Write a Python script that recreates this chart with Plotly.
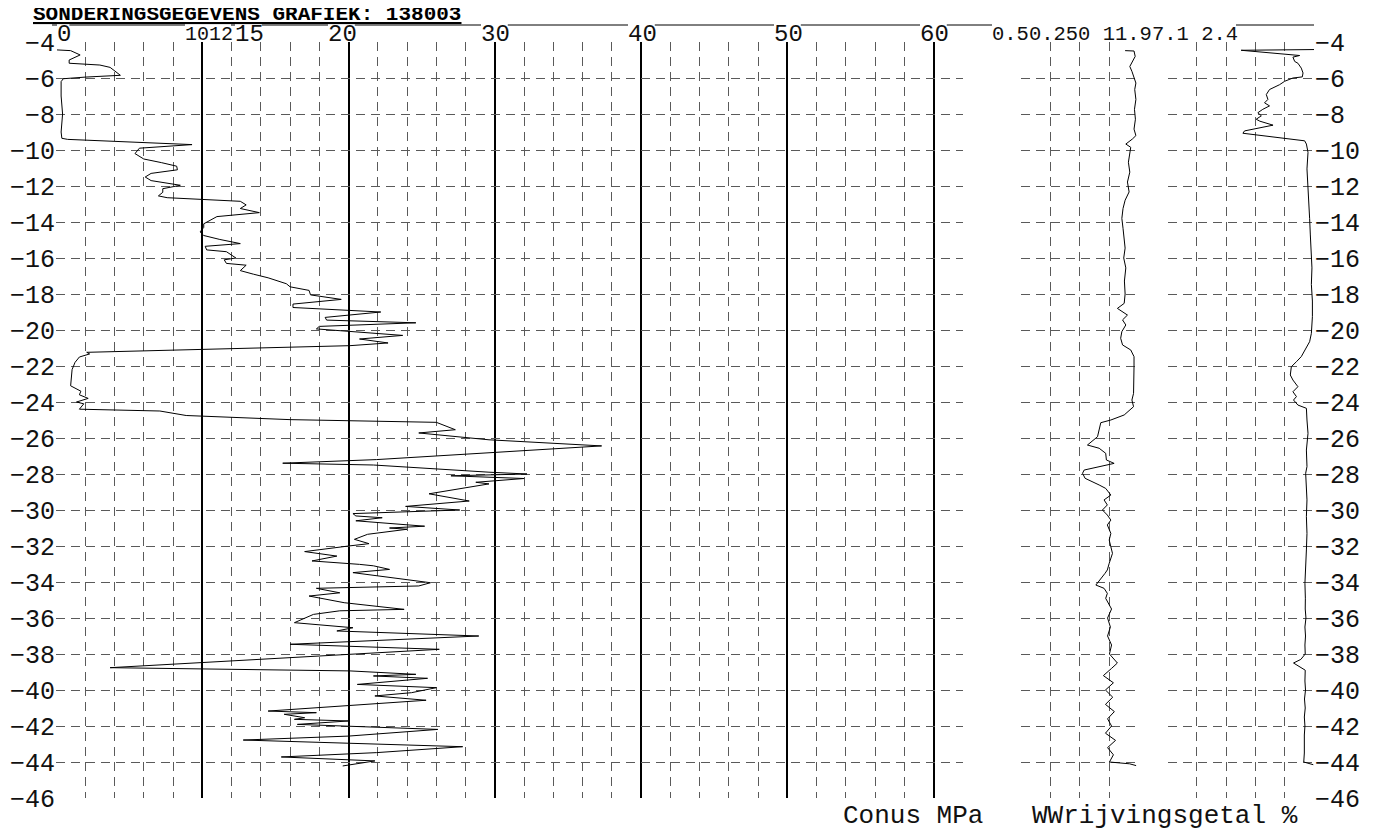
import plotly.graph_objects as go

# --- data ------------------------------------------------------------------
# cone resistance (MPa) against depth (m)
conus_depth = [-4.44, -4.48, -4.72, -5.0, -5.18, -5.28, -5.41, -5.6, -5.85, -5.95,
               -6.04, -6.2, -7.0, -8.0, -9.0, -9.35, -9.41, -9.7, -9.9, -10.2,
               -10.5, -10.7, -10.9, -11.1, -11.3, -11.5, -11.7, -11.96, -12.15, -12.35,
               -12.55, -12.65, -12.85, -13.05, -13.25, -13.48, -13.7, -14.1, -14.3, -14.55,
               -14.75, -14.97, -15.2, -15.35, -15.55, -15.65, -16.0, -16.1, -16.3, -16.4,
               -16.7, -16.9, -17.1, -17.43, -17.6, -17.8, -18.05, -18.3, -18.56, -18.75,
               -19.0, -19.3, -19.45, -19.6, -19.8, -19.94, -20.3, -20.5, -20.72, -20.87,
               -21.24, -21.33, -21.5, -21.8, -22.2, -23.1, -23.4, -23.6, -23.8, -24.0,
               -24.1, -24.4, -24.5, -24.75, -24.98, -25.13, -25.3, -25.54, -25.72, -26.0,
               -26.1, -26.44, -26.8, -27.2, -27.4, -27.5, -27.9, -28.0, -28.1, -28.25,
               -28.46, -28.55, -29.1, -29.5, -29.8, -30.0, -30.2, -30.33, -30.43, -30.6,
               -30.9, -31.0, -31.07, -31.35, -31.63, -31.87, -32.0, -32.31, -32.56, -32.83,
               -33.02, -33.1, -33.3, -33.48, -34.04, -34.22, -34.35, -34.6, -34.78, -35.15,
               -35.52, -35.6, -35.8, -36.26, -36.54, -36.72, -37.0, -37.46, -37.74, -38.02,
               -38.2, -38.76, -38.94, -39.13, -39.22, -39.35, -39.69, -39.87, -40.15, -40.33,
               -40.57, -41.17, -41.26, -41.35, -41.54, -41.63, -41.72, -41.91, -42.19, -42.56,
               -42.78, -43.15, -43.48, -43.72, -43.94, -44.22]
conus_mpa = [0.07, 1.0, 1.65, 0.9, 0.9, 3.0, 3.7, 4.0, 4.4, 2.0,
             0.5, 0.35, 0.35, 0.45, 0.35, 0.4, 0.8, 9.3, 5.7, 5.4,
             6.0, 7.2, 8.25, 8.3, 6.5, 6.1, 6.5, 8.5, 7.3, 7.3,
             7.0, 7.6, 12.6, 13.0, 12.6, 13.9, 11.0, 10.1, 10.1, 9.85,
             10.1, 11.2, 12.6, 10.2, 10.3, 11.65, 12.3, 11.5, 11.65, 13.0,
             12.6, 13.5, 14.5, 15.75, 16.0, 17.3, 17.4, 19.5, 16.2, 16.2,
             22.2, 18.4, 18.5, 24.6, 18.0, 17.8, 23.7, 20.75, 22.7, 20.1,
             2.1, 2.3, 1.6, 1.3, 1.1, 1.0, 1.7, 1.6, 2.2, 1.4,
             1.9, 1.6, 7.1, 8.9, 16.0, 26.0, 26.5, 27.3, 24.8, 28.5,
             29.6, 37.3, 29.6, 21.9, 15.5, 21.7, 29.6, 32.2, 27.0, 32.0,
             28.7, 29.6, 25.5, 28.25, 23.9, 27.6, 20.3, 20.5, 22.3, 20.5,
             25.2, 22.8, 24.0, 21.3, 20.4, 21.4, 20.0, 17.0, 19.2, 17.5,
             20.75, 21.7, 22.8, 20.3, 25.6, 24.8, 17.8, 19.4, 17.3, 19.7,
             23.8, 19.4, 17.6, 16.3, 20.3, 19.2, 28.9, 16.0, 26.2, 20.1,
             16.2, 3.7, 20.1, 24.6, 21.7, 25.4, 20.6, 26.0, 24.3, 21.8,
             25.3, 14.5, 17.8, 15.6, 17.0, 16.3, 20.0, 16.5, 26.1, 20.0,
             12.8, 27.8, 21.9, 15.4, 21.8, 19.6]

# sleeve friction (MPa) against depth (m)
fric_depth = [-4.48, -4.5, -4.8, -5.08, -5.36, -5.63, -6.0, -6.28, -6.64, -7.19,
              -7.74, -8.29, -8.84, -9.2, -9.39, -9.67, -9.85, -10.13, -10.68, -11.23,
              -11.78, -12.33, -12.79, -13.25, -13.8, -14.35, -14.9, -15.45, -16.0, -16.55,
              -17.28, -18.0, -18.52, -18.8, -19.17, -19.44, -19.72, -20.09, -20.46, -20.83,
              -21.11, -21.48, -22.04, -22.78, -23.52, -23.89, -24.26, -24.72, -25.0, -25.15,
              -25.56, -25.93, -26.39, -26.57, -26.85, -27.22, -27.41, -27.78, -27.96, -28.24,
              -28.61, -28.8, -29.17, -29.44, -29.72, -30.0, -30.28, -30.56, -30.83, -31.3,
              -31.67, -32.41, -32.96, -33.33, -33.52, -34.17, -34.35, -34.63, -34.91, -35.5,
              -36.0, -36.5, -37.0, -37.5, -38.0, -38.5, -38.8, -39.2, -39.6, -40.0,
              -40.4, -40.8, -41.2, -41.6, -42.0, -42.4, -42.8, -43.2, -43.6, -44.0,
              -44.1, -44.2]
fric_mpa = [0.057, 0.019, 0.014, 0.026, 0.037, 0.028, 0.019, 0.011, 0.016, 0.011,
            0.017, 0.013, 0.019, 0.011, 0.026, 0.054, 0.033, 0.036, 0.043, 0.037,
            0.047, 0.040, 0.057, 0.066, 0.071, 0.066, 0.061, 0.057, 0.063, 0.054,
            0.060, 0.057, 0.061, 0.090, 0.047, 0.068, 0.054, 0.071, 0.076, 0.068,
            0.033, 0.019, 0.019, 0.019, 0.021, 0.028, 0.021, 0.061, 0.118, 0.161,
            0.168, 0.175, 0.218, 0.168, 0.140, 0.137, 0.104, 0.232, 0.239, 0.228,
            0.168, 0.140, 0.118, 0.147, 0.133, 0.154, 0.133, 0.118, 0.133, 0.118,
            0.125, 0.111, 0.125, 0.133, 0.143, 0.182, 0.147, 0.133, 0.140, 0.115,
            0.132, 0.120, 0.132, 0.115, 0.124, 0.090, 0.115, 0.150, 0.107, 0.141,
            0.110, 0.141, 0.103, 0.132, 0.115, 0.141, 0.098, 0.132, 0.107, 0.124,
            0.038, 0.010]

# friction ratio (%) against depth (m)
ratio_depth = [-4.42, -4.46, -4.75, -4.84, -5.08, -5.18, -5.45, -5.72, -5.94, -6.0,
               -6.18, -6.37, -6.64, -6.92, -7.19, -7.38, -7.55, -7.74, -7.93, -8.1,
               -8.29, -8.4, -8.62, -8.75, -8.94, -9.07, -9.49, -9.67, -10.13, -11.05,
               -11.96, -12.88, -13.8, -14.72, -15.63, -16.55, -17.47, -18.39, -19.26, -20.19,
               -20.65, -21.11, -21.48, -21.76, -22.04, -22.5, -22.78, -23.15, -23.43, -23.7,
               -23.89, -24.17, -24.35, -25.0, -25.74, -26.67, -27.59, -27.96, -28.52, -29.44,
               -30.37, -31.3, -32.22, -33.15, -34.07, -34.9, -35.5, -36.0, -36.5, -37.0,
               -37.5, -38.0, -38.3, -38.5, -38.7, -38.9, -39.5, -40.0, -40.5, -41.0,
               -41.5, -42.0, -42.5, -43.0, -43.5, -44.0, -44.1, -44.15]
ratio_pct = [0.0, 4.98, 0.98, 1.44, 1.32, 1.1, 0.87, 0.75, 0.8, 1.44,
             2.0, 2.35, 3.04, 3.26, 3.15, 3.38, 3.04, 3.5, 3.84, 3.6,
             3.95, 3.7, 2.8, 3.5, 4.75, 4.86, 0.64, 0.52, 0.41, 0.48,
             0.41, 0.34, 0.3, 0.25, 0.18, 0.14, 0.18, 0.11, 0.11, 0.18,
             0.3, 0.64, 0.87, 1.2, 1.55, 1.62, 1.44, 1.1, 1.44, 1.2,
             1.4, 1.1, 0.52, 0.48, 0.41, 0.52, 0.48, 0.57, 0.52, 0.48,
             0.52, 0.48, 0.52, 0.57, 0.62, 0.59, 0.6, 0.55, 0.62, 0.58,
             0.62, 0.6, 0.9, 1.4, 1.0, 0.6, 0.62, 0.58, 0.65, 0.6,
             0.66, 0.62, 0.66, 0.64, 0.66, 0.7, 0.3, 0.05]

title = "SONDERINGSGEGEVENS GRAFIEK: 138003"
# top labels as printed: (text, left edge on the page in px, font size)
top_labels = [("0", 56, 24), ("1012", 184, 20), ("15", 234, 24), ("20", 327, 24),
              ("30", 480, 24), ("40", 627, 24), ("50", 773, 24), ("60", 919, 24),
              ("0.50.250 11.97.1 2.4", 991, 20.5)]

# --- layout helpers ---------------------------------------------------------
W, H = 1383, 829
OFF = 8                      # page body margin
L, T = 48, 34                # plot area origin inside the figure
PW, PH = 1258, 756
R, B = W - L - PW, H - T - PH
FONT = "Liberation Mono"
INK = "#111"
GRID = "#5a5a5a"
DASH = "9px,6px"


def px(x):
    return (x - OFF - L) / PW


def py(y):
    return (T + PH - (y - OFF)) / PH


fig = go.Figure()
line = dict(color="black", width=1)
fig.add_trace(go.Scatter(x=conus_mpa, y=conus_depth, mode="lines", line=line,
                         xaxis="x", yaxis="y", showlegend=False))
fig.add_trace(go.Scatter(x=fric_mpa, y=fric_depth, mode="lines", line=line,
                         xaxis="x2", yaxis="y", showlegend=False))
fig.add_trace(go.Scatter(x=ratio_pct, y=ratio_depth, mode="lines", line=line,
                         xaxis="x3", yaxis="y2", showlegend=False))

common_x = dict(showticklabels=False, ticks="", zeroline=False, showline=False,
                showgrid=True, gridcolor=GRID, griddash=DASH, gridwidth=1,
                tickmode="linear")
common_y = dict(range=[-46, -4], tickmode="linear", tick0=-4, dtick=2,
                showgrid=True, gridcolor=GRID, griddash=DASH, gridwidth=1,
                zeroline=False, showline=False, ticks="", automargin=False,
                tickfont=dict(family=FONT, size=25, color=INK))

# top rule, interrupted where the labels sit
shapes = [dict(type="line", xref="paper", yref="paper",
               x0=px(52), x1=px(1314), y0=py(25), y1=py(25),
               line=dict(color="black", width=1), layer="above")]
annotations = []
for text, left, size in top_labels:
    width = len(text) * 0.6 * size
    shapes.append(dict(type="rect", xref="paper", yref="paper",
                       x0=px(left + 1), x1=px(left + width - 1),
                       y0=py(27), y1=py(23.5), fillcolor="white",
                       line=dict(width=0), layer="above"))
    annotations.append(dict(text=text, x=px(left), y=py(35), xref="paper", yref="paper",
                            xanchor="left", yanchor="middle", showarrow=False,
                            borderpad=0, font=dict(family=FONT, size=size, color=INK)))

annotations += [
    dict(text=f"<b><u>{title}</u></b>", x=px(31), y=py(15), xref="paper", yref="paper",
         xanchor="left", yanchor="middle", showarrow=False,
         font=dict(family=FONT, size=21, color="black")),
    dict(text="Conus MPa", x=px(841), y=py(816), xref="paper", yref="paper",
         xanchor="left", yanchor="middle", showarrow=False,
         font=dict(family=FONT, size=26, color=INK)),
    dict(text="WWrijvingsgetal %", x=px(1030), y=py(816), xref="paper", yref="paper",
         xanchor="left", yanchor="middle", showarrow=False,
         font=dict(family=FONT, size=26, color=INK)),
]

fig.update_layout(
    width=W, height=H,
    margin=dict(l=L, r=R, t=T, b=B, pad=0),
    paper_bgcolor="white", plot_bgcolor="white",
    xaxis=dict(common_x, anchor="y", domain=[0, 31 / 43], range=[0, 62], tick0=0, dtick=10,
               gridcolor="black", griddash="solid", gridwidth=1.5,
               minor=dict(tick0=0, dtick=2, showgrid=True, gridcolor=GRID,
                          griddash=DASH, gridwidth=1)),
    xaxis2=dict(common_x, anchor="y", domain=[33 / 43, 37 / 43], range=[0.5, 0],
                tick0=0, dtick=0.125),
    xaxis3=dict(common_x, anchor="y2", domain=[38 / 43, 1], range=[10, 0],
                tick0=0, dtick=2),
    yaxis=dict(common_y, anchor="x", side="left"),
    yaxis2=dict(common_y, anchor="x3", side="right"),
    shapes=shapes,
    annotations=annotations,
)

fig.write_html("out.html")
